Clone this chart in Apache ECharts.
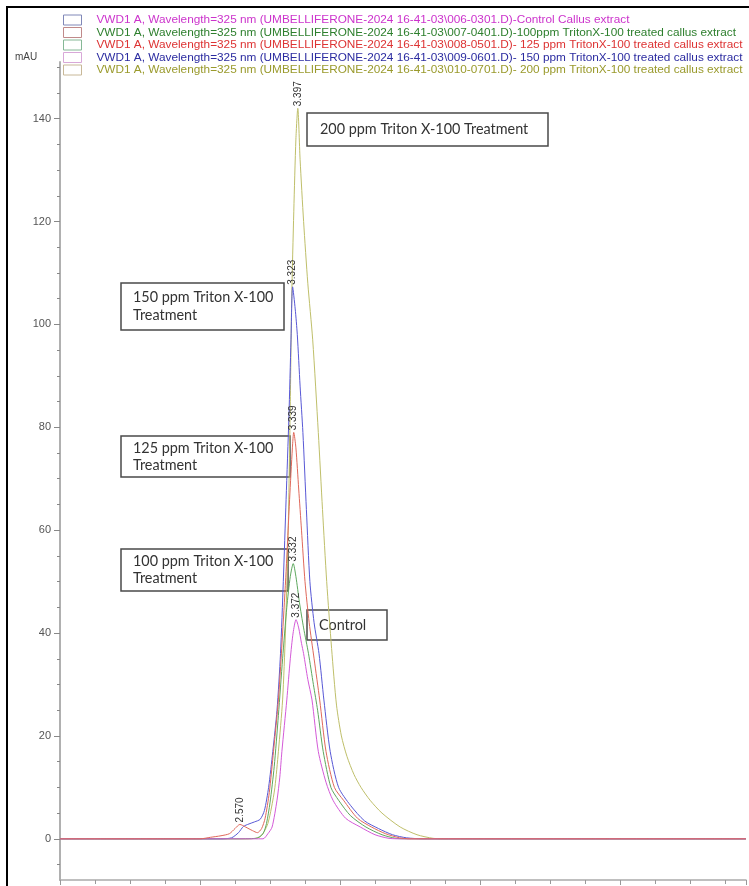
<!DOCTYPE html>
<html>
<head>
<meta charset="utf-8">
<script src="https://cdn.jsdelivr.net/npm/echarts@6/dist/echarts.min.js"></script>
<style>
html,body{margin:0;padding:0;background:#fff;}
#chart{width:749px;height:886px;}
</style>
</head>
<body>
<div id="chart"></div>
<script>
// ---- Data (retention time in min, absorbance in mAU) ----
const seriesNames = [
  "VWD1 A, Wavelength=325 nm (UMBELLIFERONE-2024 16-41-03\\006-0301.D)-Control Callus extract",
  "VWD1 A, Wavelength=325 nm (UMBELLIFERONE-2024 16-41-03\\007-0401.D)-100ppm TritonX-100 treated callus extract",
  "VWD1 A, Wavelength=325 nm (UMBELLIFERONE-2024 16-41-03\\008-0501.D)- 125 ppm TritonX-100 treated callus extract",
  "VWD1 A, Wavelength=325 nm (UMBELLIFERONE-2024 16-41-03\\009-0601.D)- 150 ppm TritonX-100 treated callus extract",
  "VWD1 A, Wavelength=325 nm (UMBELLIFERONE-2024 16-41-03\\010-0701.D)- 200 ppm TritonX-100 treated callus extract"
];

const controlData = [[0,0],[2.6,0],[2.9,0],[2.97,1],[3.03,2.3],[3.1,7.5],[3.14,12],[3.17,17],[3.24,27],[3.29,35],[3.33,40],[3.372,42.6],[3.41,41],[3.45,38],[3.48,36],[3.54,31],[3.60,27],[3.69,17],[3.80,11],[3.90,7.5],[4.08,4],[4.29,2.3],[4.5,0.8],[4.7,0.1],[4.9,0],[9.8,0]];
const ppm100Data = [[0,0],[2.5,0],[2.8,0.1],[2.9,1],[2.95,3],[3.0,7],[3.06,14],[3.12,24],[3.18,35],[3.24,45],[3.29,51],[3.332,53.5],[3.37,51],[3.42,46],[3.48,41],[3.55,36],[3.62,30],[3.68,25],[3.76,17],[3.87,10],[3.98,7.5],[4.15,4.5],[4.37,2.3],[4.6,0.8],[4.8,0.1],[5.0,0],[9.8,0]];
const ppm125Data = [[0,0],[2.0,0],[2.15,0.3],[2.3,0.6],[2.42,1.0],[2.5,2.0],[2.57,2.8],[2.65,2.3],[2.75,1.6],[2.82,1.2],[2.88,2.0],[2.93,4],[2.99,9],[3.05,17],[3.12,27],[3.18,40],[3.23,52],[3.28,66],[3.32,76],[3.339,79],[3.37,76],[3.41,68],[3.45,60],[3.50,50],[3.56,42],[3.63,35],[3.71,27],[3.80,17],[3.92,10],[4.05,7.5],[4.25,4],[4.45,2.3],[4.65,1],[4.85,0.2],[5.0,0],[9.8,0]];
const ppm150Data = [[0,0],[2.3,0],[2.45,0.2],[2.55,1.2],[2.62,2.4],[2.7,2.9],[2.78,3.3],[2.86,3.8],[2.92,5.5],[2.98,10],[3.04,17],[3.1,25],[3.15,36],[3.19,50],[3.23,66],[3.27,82],[3.30,97],[3.323,107.3],[3.36,103],[3.39,98],[3.43,88],[3.47,79],[3.52,64],[3.57,50],[3.63,42],[3.70,36],[3.77,27],[3.86,17],[3.98,10],[4.15,6.5],[4.35,3.5],[4.55,2],[4.75,0.8],[4.95,0.2],[5.2,0],[9.8,0]];
const ppm200Data = [[0,0],[2.7,0],[2.85,0.3],[2.92,1.5],[2.97,3],[3.02,6],[3.07,10],[3.12,17],[3.18,27],[3.22,40],[3.26,60],[3.29,85],[3.31,105],[3.34,122],[3.37,136],[3.397,142],[3.43,132],[3.48,120],[3.54,108],[3.61,97],[3.69,79],[3.75,64],[3.81,50],[3.88,37],[3.95,26],[4.02,20],[4.10,16],[4.2,12.5],[4.30,10],[4.43,7.5],[4.6,5],[4.86,2.3],[5.1,0.8],[5.33,0.1],[5.5,0],[9.8,0]];

// peak labels: [time, height, text]
const peakControl = [3.372, 42.6, "3.372"];
const peak100 = [3.332, 53.5, "3.332"];
const peak125 = [3.339, 79, "3.339"];
const peak125b = [2.57, 2.8, "2.570"];
const peak150 = [3.323, 107.3, "3.323"];
const peak200 = [3.397, 142, "3.397"];

const yMajorTicks = [0, 20, 40, 60, 80, 100, 120, 140];
const yMinorTicks = [-5, 5, 10, 15, 25, 30, 35, 45, 50, 55, 65, 70, 75, 85, 90, 95, 105, 110, 115, 125, 130, 135, 145, 150];

const lineColors = ['#d45ad8', '#5ea85e', '#e0685a', '#5858d6', '#bfbf6a'];
const textColors = ['#cc33cc', '#2d7f2d', '#dd3333', '#2b2ba0', '#9a9a2c'];
const iconBorders = ['#8088b8', '#c08a8a', '#86b896', '#d8a8d8', '#c8b898'];

function mk(p) {
  return {
    symbol: 'circle', symbolSize: 0.1, itemStyle: {color: 'rgba(0,0,0,0)'},
    silent: true,
    data: p.map(q => ({coord: [q[0], q[1]], value: q[2]})),
    label: {
      show: true, position: 'top', distance: 2, rotate: 90, align: 'left', verticalAlign: 'middle',
      formatter: d => d.value, fontSize: 10, color: '#333', fontFamily: 'Liberation Sans'
    }
  };
}

function lineSeries(idx, data, marks, z) {
  return {
    name: seriesNames[idx], type: 'line', data: data, showSymbol: false, symbol: 'none',
    smooth: 0.25, z: z, lineStyle: {width: 1, color: lineColors[idx]}, itemStyle: {color: lineColors[idx]},
    markPoint: mk(marks)
  };
}

const chart = echarts.init(document.getElementById('chart'), null, {renderer: 'canvas'});

const boxFont = 'Lato';
function box(x, y, w, h, txt, tx, lh) {
  return {
    type: 'group', z: 50,
    children: [
      {type: 'rect', shape: {x: x, y: y, width: w, height: h}, style: {fill: '#fff', stroke: '#4a4a4a', lineWidth: 1.5}},
      {type: 'text', x: tx, y: y + h / 2, style: {text: txt, fill: '#333', font: '14.4px ' + boxFont, verticalAlign: 'middle', lineHeight: lh}}
    ]
  };
}

chart.setOption({
  animation: false,
  backgroundColor: '#fff',
  legend: {
    orient: 'vertical', left: 58, top: 9, itemWidth: 18, itemHeight: 10, itemGap: 0.5,
    selectedMode: false,
    textStyle: {fontSize: 11.8, fontFamily: 'Liberation Sans', lineHeight: 12, padding: [0, 0, 0, 10]},
    data: seriesNames.map((n, i) => ({
      name: n, icon: 'rect',
      itemStyle: {color: '#fff', borderColor: iconBorders[i], borderWidth: 1},
      textStyle: {color: textColors[i]}
    }))
  },
  grid: {left: 60, right: 3, top: 62, height: 818},
  xAxis: {
    type: 'value', min: 0, max: 9.8, interval: 2,
    axisLine: {onZero: false, lineStyle: {color: '#aaa', width: 1.5}},
    axisTick: {length: 5, lineStyle: {color: '#999'}},
    minorTick: {show: true, splitNumber: 4, length: 4, lineStyle: {color: '#999'}},
    axisLabel: {show: false}, splitLine: {show: false}
  },
  yAxis: [{
    type: 'value', min: -8, max: 151,
    axisLine: {show: true, lineStyle: {color: '#b0b0b0', width: 2}},
    axisTick: {show: true, customValues: yMajorTicks, length: 6, lineStyle: {color: '#888'}},
    axisLabel: {customValues: yMajorTicks, margin: 9, fontSize: 11, color: '#555', fontFamily: 'Liberation Sans'},
    splitLine: {show: false}
  }, {
    type: 'value', min: -8, max: 151, position: 'left', offset: 0,
    axisLine: {show: false},
    axisTick: {show: true, customValues: yMinorTicks, length: 3, lineStyle: {color: '#888'}},
    axisLabel: {show: false},
    splitLine: {show: false}
  }],
  series: [
    lineSeries(4, ppm200Data, [peak200], 2),
    lineSeries(3, ppm150Data, [peak150], 3),
    lineSeries(1, ppm100Data, [peak100], 4),
    lineSeries(0, controlData, [peakControl], 5),
    lineSeries(2, ppm125Data, [peak125, peak125b], 6)
  ],
  graphic: [
    {type: 'rect', z: 100, shape: {x: 7, y: 7, width: 800, height: 900}, style: {fill: null, stroke: '#000', lineWidth: 2}},
    {type: 'text', x: 15, y: 52, style: {text: 'mAU', fill: '#444', font: '10px Liberation Sans'}},
    box(307, 113, 241, 33, '200 ppm Triton X-100 Treatment', 320, 17),
    box(121, 283, 163, 47, '150 ppm Triton X-100\nTreatment', 133, 18),
    box(121, 436, 169, 41, '125 ppm Triton X-100\nTreatment', 133, 17),
    box(121, 549, 167, 42, '100 ppm Triton X-100\nTreatment', 133, 17),
    box(307, 610, 80, 30, 'Control', 319, 17)
  ]
});
</script>
</body>
</html>
